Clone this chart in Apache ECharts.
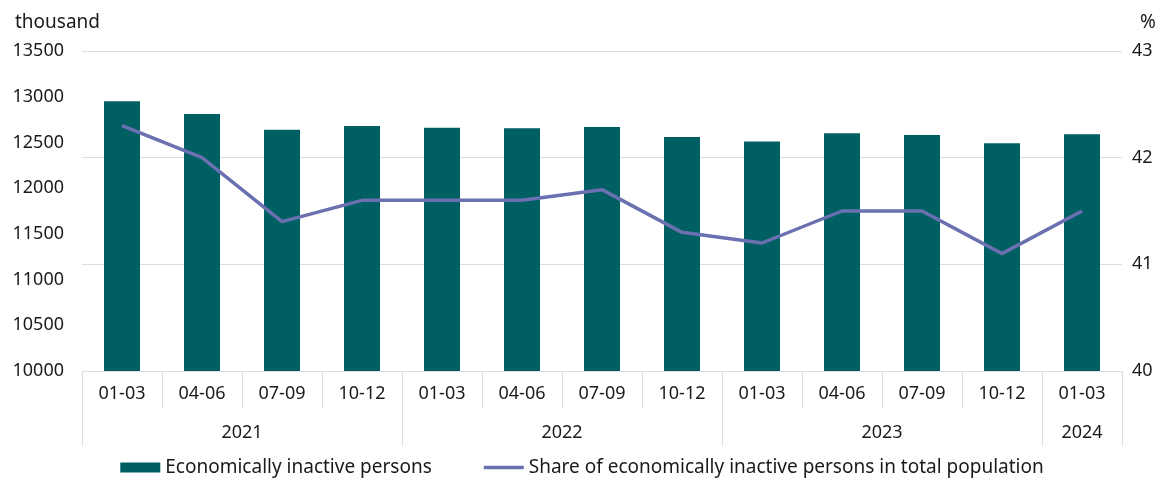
<!DOCTYPE html>
<html>
<head>
<meta charset="utf-8">
<script src="https://cdn.jsdelivr.net/npm/echarts@6/dist/echarts.min.js"></script>
<style>
  html, body { margin: 0; padding: 0; background: #fff; }
  #chart { width: 1164px; height: 484px; }
</style>
</head>
<body>
<div id="chart"></div>
<script>
const quarters = ['01-03', '04-06', '07-09', '10-12', '01-03', '04-06', '07-09', '10-12', '01-03', '04-06', '07-09', '10-12', '01-03']
const years = ['2021', '2022', '2023', '2024']
const yearSpans = [4, 4, 4, 1]
const inactive = [12950, 12810, 12640, 12680, 12660, 12655, 12670, 12560, 12510, 12600, 12580, 12490, 12590]
const share = [42.3, 42.0, 41.4, 41.6, 41.6, 41.6, 41.7, 41.3, 41.2, 41.5, 41.5, 41.1, 41.5]

const font = '"Noto Sans", sans-serif'
const textColor = '#1a1a1a'
const gridColor = '#dcdcdc'

// year group boundaries and centres along the category axis
const bounds = [0]
yearSpans.forEach(s => bounds.push(bounds[bounds.length - 1] + s))
const mids = yearSpans.map((s, i) => bounds[i] + s / 2)

const chart = echarts.init(document.getElementById('chart'))
chart.setOption({
  textStyle: { fontFamily: font },
  title: [
    { text: 'thousand', left: 10, top: 8, textStyle: { fontFamily: font, fontSize: 19, fontWeight: 'normal', color: textColor } },
    { text: '%', left: 1135, top: 8, textStyle: { fontFamily: font, fontSize: 19, fontWeight: 'normal', color: textColor } }
  ],
  grid: { left: 82, right: 42, top: 51, bottom: 113 },
  legend: {
    bottom: 2,
    left: 'center',
    itemGap: 52,
    itemWidth: 40,
    itemHeight: 10,
    textStyle: { fontFamily: font, fontSize: 19, color: textColor },
    data: [
      { name: 'Economically inactive persons', icon: 'rect' },
      // thin bar as a plain line marker
      { name: 'Share of economically inactive persons in total population', icon: 'path://M0,0 L40,0 L40,3.5 L0,3.5 Z' }
    ]
  },
  xAxis: [
    {
      type: 'category',
      data: quarters,
      axisLine: { lineStyle: { color: gridColor, width: 1 } },
      axisTick: { show: true, interval: 0, length: 37, lineStyle: { color: gridColor } },
      axisLabel: { interval: 0, margin: 14, fontSize: 18, color: textColor, fontFamily: font }
    },
    {
      type: 'value',
      min: 0,
      max: bounds[bounds.length - 1],
      position: 'bottom',
      axisLine: { show: false },
      splitLine: { show: false },
      axisTick: { show: true, length: 75, customValues: bounds, lineStyle: { color: gridColor } },
      axisLabel: {
        customValues: mids,
        margin: 53,
        fontSize: 18,
        color: textColor,
        fontFamily: font,
        formatter: v => years[mids.indexOf(v)] || ''
      }
    }
  ],
  yAxis: [
    {
      type: 'value',
      min: 10000,
      max: 13500,
      interval: 500,
      splitLine: { show: false },
      axisLine: { show: false },
      axisTick: { show: false },
      axisLabel: { margin: 18, fontSize: 18, color: textColor, fontFamily: font, formatter: v => String(v) }
    },
    {
      type: 'value',
      min: 40,
      max: 43,
      interval: 1,
      position: 'right',
      splitLine: { show: true, lineStyle: { color: gridColor, width: 1 } },
      axisLine: { show: false },
      axisTick: { show: false },
      axisLabel: { margin: 10, fontSize: 18, color: textColor, fontFamily: font }
    }
  ],
  series: [
    {
      name: 'Economically inactive persons',
      type: 'bar',
      data: inactive,
      barWidth: 36,
      itemStyle: { color: '#005f63' },
      z: 2
    },
    {
      name: 'Share of economically inactive persons in total population',
      type: 'line',
      yAxisIndex: 1,
      data: share,
      symbol: 'none',
      lineStyle: { color: '#6a70b0', width: 3.5 },
      itemStyle: { color: '#6a70b0' },
      z: 3
    }
  ]
})
</script>
</body>
</html>
